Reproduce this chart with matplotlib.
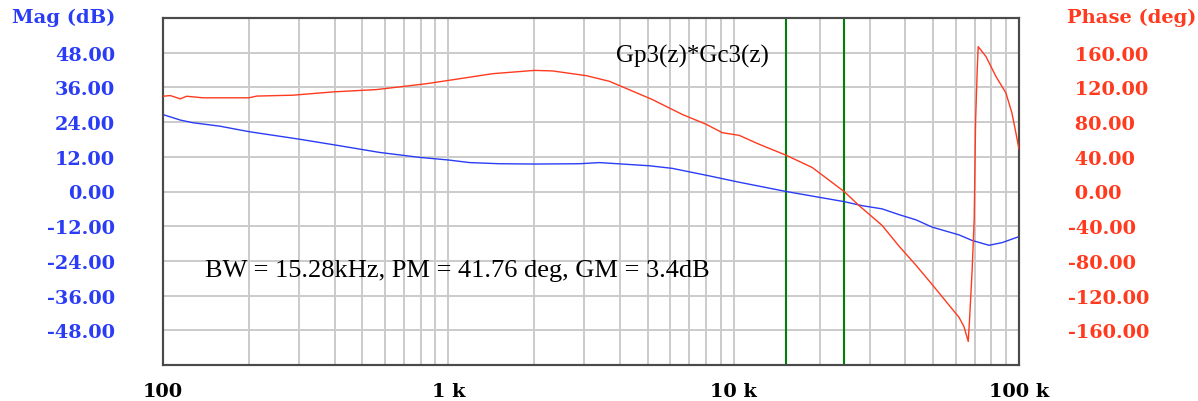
import numpy as np
import matplotlib.pyplot as plt
from matplotlib.ticker import FixedLocator, NullFormatter

# Bode data (frequency in Hz)
mag_freq = [100, 115, 127, 158, 200, 300, 400, 575, 793, 1000, 1187, 1512,
            2005, 2881, 3385, 5064, 6095, 8213, 10460, 15280, 19940, 24380,
            28190, 33110, 37980, 43550, 49550, 61610, 68390, 78460, 87100, 100000]
mag_db = [26.6, 24.7, 23.8, 22.6, 20.7, 18.1, 16.1, 13.5, 11.8, 10.9, 10.0, 9.6,
          9.5, 9.6, 10.0, 8.9, 8.0, 5.4, 3.2, 0.0, -2.0, -3.5,
          -4.9, -6.0, -8.0, -9.8, -12.3, -15.0, -16.9, -18.6, -17.7, -15.6]

phase_freq = [100, 106, 115, 121, 138, 200, 213, 285, 394, 561, 840, 1095,
              1429, 2005, 2317, 3048, 3669, 5188, 6607, 8017, 9122, 10460,
              12290, 15280, 18840, 24380, 27520, 33110, 37980, 43550, 49550,
              56850, 61610, 64120, 66390, 67140, 68550, 69660, 70450, 71380,
              71940, 76560, 82990, 89950, 94410, 97500, 100000]
phase_deg = [109.8, 110.6, 106.8, 109.8, 108.0, 108.0, 110.0, 111.0,
             114.8, 117.5, 124.3, 130.0, 135.8, 139.6, 139.0, 133.5, 127.0,
             106.0, 88.8, 77.4, 67.8, 64.7, 54.4, 41.76, 27.7, 0.0, -16.3,
             -39.0, -63.0, -85.0, -107.0, -131.0, -145.0, -155.6, -172.8,
             -146.0, -88.8, -31.5, 81.0, 140.0, 167.0, 155.7, 132.7, 113.7,
             90.8, 67.8, 48.7]

bw_freq = 15280
gm_freq = 24400

mag_ticks = [48, 36, 24, 12, 0, -12, -24, -36, -48]
phase_ticks = [160, 120, 80, 40, 0, -40, -80, -120, -160]
freq_ticks = [100, 1000, 10000, 100000]
freq_labels = ['100', '1 k', '10 k', '100 k']

title_text = 'Gp3(z)*Gc3(z)'
info_text = 'BW = 15.28kHz, PM = 41.76 deg, GM = 3.4dB'

blue = '#2a3cf5'
red = '#ff3a1e'
grid_c = '#cbcbcb'
tick_font = 'DejaVu Serif'
tick_size = 13.9

fig = plt.figure(figsize=(11.98, 4.02), dpi=100)
ax = fig.add_axes([163 / 1198, 36 / 402, 856 / 1198, 347 / 402])
ax2 = ax.twinx()

ax.set_xscale('log')
ax.set_xlim(100, 100000)
ax.set_ylim(-60, 60)
ax2.set_ylim(-200, 200)

ax.xaxis.set_major_locator(FixedLocator(freq_ticks))
minors = [m * d for d in [100, 1000, 10000] for m in range(2, 10)]
ax.xaxis.set_minor_locator(FixedLocator(minors))
ax.xaxis.set_minor_formatter(NullFormatter())
ax.set_xticklabels(freq_labels, fontfamily=tick_font, fontweight='bold', fontsize=tick_size)

ax.set_yticks(mag_ticks)
ax.set_yticklabels(['%.2f' % v for v in mag_ticks], color=blue,
                   fontfamily=tick_font, fontweight='bold', fontsize=tick_size)
ax2.set_yticks(phase_ticks)
ax2.set_yticklabels([('%.2f' % v) if v < 0 else (' %.2f' % v) for v in phase_ticks],
                    color=red, fontfamily=tick_font, fontweight='bold', fontsize=tick_size)

ax.tick_params(axis='x', which='both', length=0, pad=12.5)
ax.tick_params(axis='y', length=0, pad=34.5)
ax2.tick_params(axis='y', length=0, pad=35)

ax.grid(True, which='both', axis='x', color=grid_c, lw=1.4)
ax.grid(True, which='major', axis='y', color=grid_c, lw=1.4)
ax.set_axisbelow(True)

for a in (ax, ax2):
    for s in a.spines.values():
        s.set_color('#4a4a4a')
        s.set_linewidth(1.5)

ax.plot(mag_freq, mag_db, color=blue, lw=1.0, zorder=3)
ax.axvline(bw_freq, color='#00800a', lw=1.5, zorder=2)
ax.axvline(gm_freq, color='#00800a', lw=1.5, zorder=2)
ax2.plot(phase_freq, phase_deg, color=red, lw=1.0, zorder=3)

ax.text(7160, 47, title_text, ha='center', va='center',
        fontfamily='Liberation Serif', fontsize=18)
ax.text(1074, -27.3, info_text, ha='center', va='center',
        fontfamily='Liberation Serif', fontsize=19)

fig.text(115 / 1198, 1 - 18 / 402, 'Mag (dB)', color=blue, ha='right', va='center',
         fontfamily=tick_font, fontweight='bold', fontsize=14)
fig.text(1067 / 1198, 1 - 18 / 402, 'Phase (deg)', color=red, ha='left', va='center',
         fontfamily=tick_font, fontweight='bold', fontsize=14)

fig.savefig('out.png', dpi=100)
